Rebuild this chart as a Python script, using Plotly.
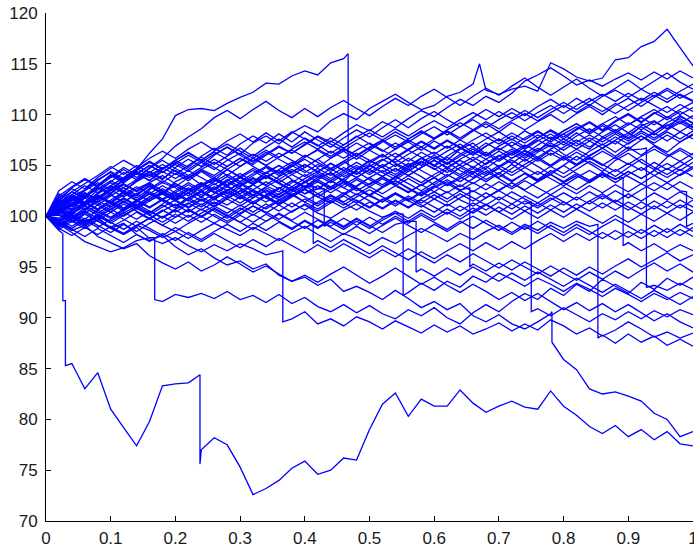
import plotly.graph_objects as go

# time grid (step 0.02)
T = [round(i * 0.02, 2) for i in range(51)]

p01 = [100, 98.6, 85.5, 83.0, 84.6, 81.0, 79.2, 77.4, 79.8, 83.3, 83.5, 83.6, 77.0, 78.2, 77.5, 75.3, 72.6, 73.2, 74.0, 75.2, 75.9, 74.6, 75.0, 76.2, 76.0, 79.0, 81.5, 82.6, 80.3, 82.0, 81.3, 81.3, 82.9, 81.6, 80.7, 81.3, 81.8, 81.2, 81.0, 82.8, 81.3, 80.4, 79.3, 78.6, 79.4, 78.3, 79.0, 78.0, 78.8, 77.6, 77.4]
p02 = [100, 100.6, 99.8, 100.4, 99.5, 98.8, 99.3, 98.2, 97.6, 98.1, 97.0, 96.2, 96.8, 95.9, 95.2, 95.6, 94.8, 95.3, 94.2, 93.6, 94.0, 93.2, 93.8, 92.6, 93.1, 92.5, 91.8, 92.7, 91.9, 91.0, 91.6, 90.8, 91.4, 90.2, 89.6, 90.3, 89.4, 88.9, 89.6, 90.4, 85.9, 84.9, 83.0, 82.5, 82.7, 82.3, 81.8, 80.6, 80.0, 78.3, 78.8]
p03 = [100, 99.2, 98.4, 97.5, 97.0, 96.5, 96.9, 97.6, 97.9, 91.6, 92.3, 92.0, 92.4, 91.9, 92.6, 91.8, 92.2, 91.5, 92.3, 91.4, 92.0, 91.1, 90.6, 91.3, 90.5, 91.2, 90.4, 89.9, 90.8, 90.2, 91.0, 90.0, 89.4, 90.5, 91.3, 90.6, 91.6, 92.4, 91.8, 92.9, 92.2, 93.3, 92.6, 93.8, 93.1, 92.4, 93.5, 92.8, 93.9, 93.2, 94.0]
p04 = [100, 100.8, 100.2, 99.5, 99.9, 98.8, 98.2, 98.9, 97.8, 97.3, 97.9, 97.1, 96.5, 97.2, 96.6, 97.3, 96.8, 96.2, 96.5, 89.9, 90.6, 89.4, 89.9, 89.2, 90.1, 89.6, 88.9, 89.7, 89.1, 88.5, 89.3, 88.6, 89.2, 88.4, 88.9, 89.5, 88.7, 89.4, 88.8, 89.8, 89.2, 88.4, 89.0, 88.2, 88.8, 89.6, 88.9, 88.1, 88.6, 88.0, 88.5]
p05 = [100, 99.5, 100.3, 101.0, 100.4, 99.8, 100.6, 101.2, 100.5, 99.9, 100.7, 101.3, 100.6, 101.4, 100.8, 100.2, 101.0, 100.4, 99.7, 100.5, 101.1, 100.3, 99.8, 100.6, 101.2, 100.5, 99.9, 100.3, 92.5, 93.4, 92.7, 93.6, 93.0, 94.1, 93.5, 94.4, 93.8, 93.1, 93.9, 93.3, 92.6, 93.4, 92.8, 92.1, 92.9, 92.3, 91.6, 92.4, 91.8, 92.5, 91.9]
p06 = [100, 100.4, 99.6, 99.0, 99.7, 98.9, 98.3, 99.1, 98.6, 97.9, 98.5, 97.8, 98.6, 99.3, 98.7, 98.1, 98.9, 98.3, 97.6, 98.4, 99.0, 98.2, 97.5, 98.3, 97.8, 97.1, 97.9, 97.3, 98.1, 98.8, 98.2, 97.5, 98.3, 97.7, 98.5, 99.1, 98.4, 99.2, 98.6, 99.4, 98.8, 99.5, 99.0, 88.3, 87.5, 88.4, 87.6, 88.2, 87.3, 87.9, 87.2]
p07 = [100, 101.1, 100.5, 101.4, 102.0, 101.3, 100.7, 101.5, 102.2, 101.6, 101.0, 101.8, 102.5, 101.7, 101.1, 101.9, 102.6, 101.9, 101.2, 102.0, 102.7, 101.9, 101.3, 102.1, 102.8, 102.0, 101.4, 102.2, 101.5, 100.9, 101.7, 102.4, 101.6, 101.0, 101.8, 102.5, 101.8, 101.2, 90.9, 90.2, 91.0, 90.3, 89.6, 90.4, 89.8, 90.6, 89.9, 90.7, 90.1, 90.8, 90.3]
p08 = [100, 100.9, 101.7, 101.0, 101.9, 102.6, 101.9, 102.7, 103.3, 102.5, 101.8, 102.6, 103.2, 102.4, 101.7, 102.5, 103.1, 102.3, 101.6, 102.4, 103.0, 102.2, 102.9, 103.6, 102.8, 102.1, 102.9, 103.5, 102.7, 102.0, 102.8, 103.4, 102.6, 95.3, 94.6, 95.4, 94.7, 95.5, 94.8, 94.1, 94.9, 94.2, 95.0, 94.3, 95.1, 95.8, 95.0, 95.7, 96.4, 95.6, 96.2]
p09 = [100, 101.3, 102.1, 101.4, 102.6, 103.3, 102.5, 103.4, 104.1, 103.3, 104.2, 103.5, 104.4, 103.6, 102.9, 103.8, 104.5, 103.7, 104.6, 105.3, 104.5, 103.8, 104.7, 105.4, 104.6, 105.5, 104.8, 104.1, 105.0, 105.7, 104.9, 105.8, 105.0, 104.3, 105.2, 106.0, 105.2, 106.1, 105.4, 106.2, 105.5, 106.3, 105.6, 106.4, 105.7, 106.5, 106.6, 93.2, 92.7, 93.4, 92.8]
p10 = [100, 99.4, 100.2, 101.0, 100.3, 101.1, 101.8, 101.0, 101.7, 102.4, 101.6, 102.3, 101.5, 102.2, 102.9, 102.1, 101.4, 102.1, 102.8, 102.0, 102.7, 103.4, 102.6, 103.3, 102.5, 103.2, 103.9, 103.1, 102.4, 103.1, 103.8, 103.0, 103.7, 104.4, 103.6, 104.3, 103.5, 104.2, 103.4, 104.1, 103.3, 104.0, 103.3, 104.1, 103.7, 97.4, 96.6, 97.3, 96.5, 97.2, 96.6]
p11 = [100, 101.2, 102.4, 101.8, 103.0, 104.1, 103.5, 104.6, 106.2, 107.6, 109.9, 110.5, 110.6, 110.4, 111.1, 111.7, 112.2, 113.1, 113.0, 113.8, 114.3, 113.9, 115.1, 115.5, 104.2, 105.0, 104.3, 105.1, 104.4, 105.3, 106.0, 105.2, 106.1, 106.8, 106.0, 106.9, 107.6, 106.8, 107.7, 108.4, 107.6, 108.5, 109.2, 108.4, 109.3, 110.0, 109.2, 110.1, 110.8, 110.0, 110.7]
p12 = [100, 100.8, 101.9, 101.2, 102.3, 103.0, 102.4, 103.5, 104.3, 103.6, 104.8, 105.6, 104.9, 106.0, 106.8, 106.1, 107.2, 107.9, 107.1, 108.2, 108.9, 108.3, 109.4, 110.1, 109.5, 110.6, 111.3, 112.0, 111.2, 110.5, 110.9, 111.8, 112.2, 113.0, 112.4, 112.0, 112.5, 112.8, 112.3, 115.1, 114.5, 113.7, 113.3, 113.6, 115.4, 115.6, 116.7, 117.2, 118.4, 116.6, 114.8]
p13 = [100, 99.6, 100.5, 101.3, 100.7, 101.6, 102.4, 101.8, 102.7, 103.5, 102.9, 103.8, 104.6, 104.0, 104.9, 105.7, 105.1, 106.0, 106.8, 106.2, 107.1, 107.9, 107.3, 108.2, 109.0, 108.4, 109.3, 108.7, 109.6, 110.4, 109.8, 110.7, 111.5, 110.9, 111.8, 111.2, 112.1, 113.3, 113.9, 114.6, 113.8, 112.9, 113.4, 112.8, 113.5, 114.1, 113.4, 114.2, 113.5, 114.3, 113.6]
p14 = [100, 100.9, 102.1, 103.0, 102.3, 103.4, 104.3, 103.6, 104.8, 105.7, 106.9, 107.8, 108.6, 109.7, 110.4, 109.6, 110.5, 111.3, 110.4, 109.7, 110.6, 109.8, 110.7, 111.4, 110.6, 109.9, 110.8, 111.6, 110.9, 111.8, 112.5, 111.7, 110.9, 111.8, 112.6, 111.9, 112.8, 113.6, 112.7, 111.9, 112.7, 113.5, 112.6, 111.8, 112.6, 113.4, 112.5, 113.3, 114.1, 113.2, 112.5]
p15 = [100, 101.4, 100.7, 101.8, 102.9, 102.2, 103.3, 104.2, 103.5, 104.6, 105.5, 104.8, 105.9, 106.7, 106.0, 107.1, 107.9, 107.2, 108.1, 107.3, 108.3, 107.5, 106.8, 107.7, 108.5, 107.8, 108.7, 109.5, 108.7, 109.6, 110.3, 109.5, 108.8, 109.7, 110.5, 109.8, 110.6, 109.9, 110.8, 111.5, 110.7, 111.6, 110.9, 111.8, 112.4, 111.7, 112.5, 111.8, 112.6, 111.9, 111.3]
p16 = [100, 99.3, 98.6, 99.1, 98.0, 97.4, 96.8, 97.3, 96.1, 95.4, 94.8, 95.5, 94.6, 95.2, 96.0, 95.3, 94.5, 95.1, 94.3, 93.6, 94.2, 93.5, 94.3, 95.0, 94.2, 93.4, 94.1, 94.9, 94.1, 93.3, 94.0, 93.2, 92.5, 93.3, 92.6, 91.8, 92.5, 91.7, 92.4, 91.6, 90.8, 91.5, 90.7, 91.4, 90.6, 91.3, 90.5, 89.7, 90.4, 89.6, 89.0]
p17 = [100, 100.7, 100.0, 99.3, 100.1, 99.4, 98.7, 99.5, 98.8, 98.1, 98.9, 98.2, 97.5, 98.3, 97.6, 96.9, 97.7, 97.0, 97.8, 97.1, 96.4, 97.2, 96.5, 97.3, 96.6, 95.9, 96.7, 96.0, 96.8, 96.1, 95.4, 96.2, 95.5, 96.3, 95.6, 94.9, 95.7, 95.0, 94.3, 95.1, 94.4, 93.7, 94.5, 93.8, 94.6, 93.9, 94.7, 95.4, 94.6, 95.3, 94.5]
p18 = [100, 101.0, 101.8, 101.1, 102.0, 101.3, 102.1, 102.9, 102.2, 103.0, 102.3, 103.1, 102.4, 103.2, 102.5, 103.3, 102.6, 103.4, 102.7, 103.5, 102.9, 97.6, 96.9, 97.7, 97.0, 96.3, 97.1, 96.4, 95.7, 96.5, 95.8, 96.6, 97.3, 96.6, 97.4, 96.7, 97.5, 96.8, 97.6, 98.3, 97.5, 98.3, 97.6, 98.4, 97.7, 98.5, 97.8, 98.6, 97.9, 98.7, 98.0]
p19 = [100, 100.6, 101.5, 102.3, 101.6, 102.5, 103.2, 102.5, 103.3, 104.0, 103.2, 102.5, 103.3, 102.6, 103.4, 102.7, 102.0, 102.8, 102.1, 102.9, 102.2, 102.7, 99.4, 98.7, 99.5, 98.8, 99.6, 100.3, 99.5, 100.3, 99.6, 100.4, 99.7, 100.5, 101.2, 100.4, 101.2, 100.5, 101.3, 100.6, 101.4, 100.7, 101.5, 102.2, 101.4, 102.2, 101.5, 102.3, 101.6, 102.4, 101.7]
p20 = [100, 99.5, 98.8, 99.6, 98.9, 99.7, 100.4, 99.7, 100.5, 99.8, 100.6, 99.9, 100.7, 100.0, 99.3, 100.1, 99.4, 100.2, 99.5, 98.8, 99.6, 98.9, 99.7, 99.0, 99.8, 99.1, 98.4, 99.2, 99.5, 94.8, 94.1, 94.9, 94.2, 95.0, 94.3, 93.6, 94.4, 93.7, 94.5, 93.8, 93.1, 93.9, 93.2, 92.5, 93.3, 92.6, 91.9, 92.7, 92.0, 91.3, 92.1]
p21 = [100, 100.5, 101.3, 100.6, 101.4, 102.1, 101.4, 102.2, 101.5, 102.3, 103.0, 102.3, 103.1, 103.8, 103.1, 103.9, 103.2, 104.0, 103.3, 102.6, 103.4, 102.7, 103.5, 102.8, 103.6, 102.9, 103.7, 103.0, 102.3, 103.1, 102.4, 103.2, 102.5, 103.3, 102.6, 103.4, 102.7, 103.5, 102.8, 102.1, 102.9, 102.2, 103.0, 102.3, 103.1, 102.4, 103.2, 102.5, 103.3, 102.5, 99.3]
p22 = [100, 101.8, 102.7, 102.0, 103.1, 104.0, 103.3, 104.2, 105.0, 104.3, 105.1, 104.4, 105.3, 104.6, 105.5, 106.2, 105.4, 106.3, 105.6, 104.9, 105.8, 106.5, 105.7, 106.6, 105.9, 106.7, 107.4, 106.6, 107.5, 106.8, 107.6, 108.3, 107.5, 108.4, 109.1, 108.3, 109.2, 108.5, 109.3, 110.0, 109.2, 110.1, 110.8, 110.0, 110.9, 111.6, 110.8, 111.7, 112.4, 111.6, 112.3]
p23 = [100, 100.3, 101.2, 102.0, 101.3, 100.6, 101.4, 100.7, 101.5, 102.2, 101.5, 100.8, 101.6, 100.9, 101.7, 101.0, 101.8, 102.5, 101.8, 102.6, 101.9, 101.2, 102.0, 101.3, 100.6, 101.4, 100.7, 101.5, 100.8, 101.6, 100.9, 100.2, 101.0, 100.3, 101.1, 100.4, 99.7, 100.5, 99.8, 100.6, 99.9, 100.7, 100.0, 99.3, 100.1, 99.4, 100.2, 99.5, 100.3, 99.6, 100.4]
p24 = [100, 98.9, 99.7, 100.5, 99.8, 100.7, 101.5, 100.8, 101.7, 102.4, 101.7, 102.6, 103.3, 102.6, 103.5, 104.2, 103.4, 104.3, 103.6, 104.4, 105.1, 104.3, 105.2, 104.5, 105.3, 104.6, 105.5, 106.2, 105.4, 106.3, 105.6, 106.4, 107.1, 106.3, 107.2, 106.5, 107.3, 106.6, 107.4, 108.1, 107.3, 108.2, 107.4, 108.3, 109.0, 108.2, 109.1, 108.3, 109.2, 109.9, 109.1]
p25 = [100, 101.5, 102.8, 103.6, 102.9, 103.8, 104.6, 103.8, 104.7, 105.5, 104.7, 104.0, 104.8, 105.6, 104.9, 105.7, 104.9, 104.2, 105.0, 104.3, 105.1, 104.4, 105.2, 104.5, 103.8, 104.6, 103.9, 104.7, 104.0, 104.8, 105.5, 104.7, 105.5, 104.8, 105.6, 104.9, 105.7, 106.4, 105.6, 106.5, 105.8, 106.6, 105.9, 106.7, 107.4, 106.6, 107.5, 108.2, 107.4, 108.3, 107.6]
p26 = [100, 99.2, 100.1, 99.4, 100.2, 99.5, 100.3, 101.0, 100.3, 101.1, 100.4, 101.2, 101.9, 101.2, 102.0, 101.3, 102.1, 101.4, 102.2, 102.9, 102.2, 103.0, 102.3, 103.1, 103.8, 103.1, 103.9, 103.2, 104.0, 103.3, 104.1, 104.8, 104.1, 104.9, 104.2, 105.0, 104.3, 105.1, 105.8, 105.0, 105.9, 105.1, 106.0, 106.7, 105.9, 106.8, 106.0, 106.9, 106.1, 105.4, 106.2]
p27 = [100, 100.8, 101.6, 102.5, 103.3, 102.6, 103.5, 104.3, 103.5, 104.4, 103.7, 104.5, 103.8, 103.1, 103.9, 103.2, 104.0, 104.8, 104.0, 104.9, 105.6, 104.8, 105.7, 106.4, 105.6, 106.5, 105.8, 106.6, 107.3, 106.5, 107.4, 106.7, 107.5, 106.8, 107.6, 108.3, 107.5, 108.4, 107.7, 108.5, 107.8, 108.6, 109.3, 108.5, 109.4, 110.1, 109.3, 110.2, 109.5, 110.3, 109.6]
p28 = [100, 99.7, 99.0, 99.8, 99.1, 98.4, 99.2, 98.5, 99.3, 100.0, 99.3, 100.1, 99.4, 100.2, 99.5, 100.3, 101.0, 100.3, 101.1, 100.4, 101.2, 100.5, 101.3, 102.0, 101.3, 102.1, 101.4, 102.2, 101.5, 102.3, 103.0, 102.3, 103.1, 102.4, 103.2, 102.5, 103.3, 102.6, 103.4, 104.1, 103.4, 104.2, 103.5, 104.3, 103.6, 104.4, 103.7, 104.5, 105.2, 104.5, 105.3]
p29 = [100, 102.2, 101.5, 102.6, 103.5, 104.4, 103.7, 104.6, 105.4, 104.7, 105.5, 106.3, 105.5, 106.4, 107.1, 106.4, 105.7, 106.5, 105.8, 106.6, 107.3, 106.6, 107.4, 106.7, 107.5, 108.2, 107.5, 108.3, 107.6, 108.4, 107.7, 108.5, 109.2, 108.5, 109.3, 108.6, 109.4, 110.1, 109.4, 110.2, 110.9, 110.2, 111.0, 110.3, 111.1, 110.4, 111.2, 111.9, 111.2, 112.0, 111.4]
p30 = [100, 100.2, 99.5, 100.3, 101.1, 100.4, 101.2, 100.5, 99.8, 100.6, 99.9, 100.7, 100.0, 100.8, 100.1, 99.4, 100.2, 99.5, 100.3, 99.6, 100.4, 99.7, 99.0, 99.8, 99.1, 99.9, 99.2, 100.0, 99.3, 100.1, 99.4, 98.7, 99.5, 98.8, 99.6, 98.9, 98.2, 99.0, 98.3, 99.1, 98.4, 99.2, 98.5, 97.8, 98.6, 97.9, 98.7, 98.0, 98.8, 98.1, 98.9]
p31 = [100, 101.6, 102.4, 103.2, 104.0, 104.9, 104.1, 105.0, 104.3, 105.1, 104.4, 103.7, 104.5, 103.8, 104.6, 103.9, 104.7, 104.0, 103.3, 104.1, 103.4, 104.2, 103.5, 104.3, 105.0, 104.3, 105.1, 104.4, 105.2, 104.5, 103.8, 104.6, 103.9, 104.7, 104.0, 104.8, 105.5, 104.8, 105.6, 104.9, 105.7, 105.0, 105.8, 105.1, 104.4, 105.2, 104.5, 105.3, 104.6, 105.4, 104.7]
p32 = [100, 98.8, 98.1, 98.9, 98.2, 99.0, 98.3, 99.1, 99.8, 99.1, 99.9, 100.6, 99.9, 100.7, 100.0, 100.8, 100.1, 100.9, 101.6, 100.9, 101.7, 101.0, 101.8, 101.1, 101.9, 102.6, 101.9, 101.2, 102.0, 101.3, 102.1, 101.4, 102.2, 101.5, 102.3, 101.6, 102.4, 101.7, 101.0, 101.8, 101.1, 101.9, 101.2, 102.0, 101.3, 100.6, 101.4, 100.7, 101.5, 100.8, 101.6]
p33 = [100, 101.0, 100.3, 101.2, 102.1, 101.4, 102.3, 101.6, 102.4, 101.7, 102.5, 103.3, 102.6, 103.4, 104.1, 103.4, 104.2, 104.9, 104.2, 105.0, 104.3, 105.1, 104.4, 105.2, 105.9, 105.2, 106.0, 105.3, 106.1, 106.8, 106.1, 106.9, 106.2, 105.5, 106.3, 105.6, 106.4, 105.7, 106.5, 107.2, 106.5, 107.3, 108.0, 107.3, 108.1, 107.4, 108.2, 107.5, 108.3, 107.6, 108.4]
p34 = [100, 100.4, 101.3, 102.1, 101.4, 102.3, 103.1, 102.4, 103.2, 102.5, 101.8, 102.6, 101.9, 102.7, 102.0, 102.8, 102.1, 102.9, 103.6, 102.9, 103.7, 104.4, 103.7, 104.5, 103.8, 104.6, 103.9, 104.7, 104.0, 104.8, 105.5, 104.8, 105.6, 106.3, 105.6, 106.4, 105.7, 106.5, 105.8, 106.6, 107.3, 106.6, 107.4, 106.7, 107.5, 108.2, 107.5, 108.3, 109.0, 108.3, 109.1]
p35 = [100, 99.0, 99.8, 99.1, 99.9, 100.7, 100.0, 100.8, 100.1, 99.4, 100.2, 99.5, 100.3, 101.0, 100.3, 101.1, 100.4, 101.2, 100.5, 101.3, 100.6, 101.4, 102.1, 101.4, 102.2, 101.5, 100.8, 101.6, 100.9, 101.7, 102.4, 101.7, 102.5, 101.8, 101.1, 101.9, 101.2, 102.0, 101.3, 102.1, 101.4, 100.7, 101.5, 100.8, 101.6, 100.9, 100.2, 101.0, 100.3, 101.1, 100.5]
p36 = [100, 101.9, 101.2, 102.3, 101.6, 102.7, 103.6, 104.5, 105.3, 104.6, 105.5, 106.2, 105.5, 106.3, 105.6, 104.9, 105.7, 105.0, 105.8, 106.5, 105.8, 106.6, 105.9, 106.7, 106.0, 106.8, 107.5, 106.8, 107.6, 108.3, 107.6, 108.4, 107.7, 108.5, 107.8, 107.1, 107.9, 107.2, 108.0, 107.3, 108.1, 108.8, 108.1, 108.9, 108.2, 109.0, 109.7, 109.0, 109.8, 109.1, 109.9]
p37 = [100, 100.6, 99.9, 99.2, 100.0, 99.3, 100.1, 100.8, 100.1, 100.9, 101.6, 100.9, 101.7, 101.0, 101.8, 102.5, 101.8, 102.6, 101.9, 102.7, 103.4, 102.7, 103.5, 102.8, 102.1, 102.9, 102.2, 103.0, 103.7, 103.0, 103.8, 103.1, 103.9, 103.2, 104.0, 104.7, 104.0, 104.8, 104.1, 104.9, 104.2, 105.0, 105.7, 105.0, 105.8, 105.1, 105.9, 106.6, 105.9, 106.7, 106.0]
p38 = [100, 101.3, 100.6, 101.4, 100.7, 101.5, 100.8, 101.6, 100.9, 101.7, 101.0, 101.8, 101.1, 101.9, 102.6, 101.9, 101.2, 102.0, 101.3, 102.1, 101.4, 102.2, 101.5, 100.8, 101.6, 100.9, 101.7, 101.0, 101.8, 101.1, 100.4, 101.2, 100.5, 101.3, 100.6, 101.4, 100.7, 101.5, 100.8, 101.6, 102.3, 101.6, 102.4, 101.7, 102.5, 101.8, 102.6, 103.3, 102.6, 103.4, 102.7]
p39 = [100, 102.5, 103.4, 102.7, 103.8, 104.7, 105.5, 104.8, 105.7, 106.4, 105.7, 106.6, 107.3, 106.5, 107.4, 108.1, 107.3, 108.2, 107.4, 108.3, 107.6, 106.9, 107.7, 107.0, 107.8, 108.5, 107.8, 108.6, 107.9, 108.7, 109.4, 108.7, 109.5, 110.2, 109.5, 110.3, 109.6, 110.4, 109.7, 110.5, 111.2, 110.5, 111.3, 112.0, 111.3, 112.1, 111.4, 112.2, 111.5, 112.3, 113.0]
p40 = [100, 99.4, 98.7, 98.0, 98.8, 98.1, 97.4, 98.2, 97.5, 98.3, 97.6, 98.4, 97.7, 98.5, 99.2, 98.5, 99.3, 98.6, 99.4, 98.7, 99.5, 98.8, 99.6, 98.9, 99.7, 99.0, 99.8, 100.5, 99.8, 100.6, 99.9, 100.7, 100.0, 100.8, 100.1, 100.9, 100.2, 101.0, 100.3, 101.1, 100.4, 101.2, 100.5, 101.3, 100.6, 101.4, 100.7, 101.5, 100.8, 101.6, 100.9]
p41 = [100, 100.9, 99.8, 100.5, 101.9, 101.2, 102.5, 102.0, 103.1, 102.2, 103.4, 104.0, 103.1, 103.5, 104.6, 103.8, 103.2, 104.3, 105.0, 104.1, 104.8, 105.6, 104.7, 103.9, 104.5, 105.4, 106.1, 105.2, 104.6, 105.7, 106.3, 105.5, 106.6, 107.2, 106.1, 105.4, 106.2, 107.0, 106.4, 107.5, 108.1, 107.2, 106.6, 107.8, 108.5, 107.7, 108.9, 109.4, 108.6, 109.8, 109.2]
p42 = [100, 101.4, 102.0, 101.1, 101.7, 102.9, 102.3, 101.5, 102.6, 103.3, 102.8, 102.0, 102.9, 103.7, 103.0, 102.2, 103.1, 103.9, 104.5, 103.6, 102.9, 103.8, 104.2, 103.4, 104.6, 105.1, 104.3, 103.6, 104.4, 105.3, 104.7, 103.9, 104.8, 105.5, 104.6, 103.8, 104.7, 105.6, 104.9, 104.1, 105.0, 105.9, 105.2, 104.4, 105.5, 106.2, 105.3, 104.6, 105.8, 106.5, 105.7]
p43 = [100, 99.1, 99.9, 100.8, 100.1, 100.9, 101.7, 101.0, 100.3, 101.2, 102.1, 101.5, 102.4, 101.6, 102.5, 103.2, 102.4, 101.8, 102.7, 103.5, 102.8, 103.6, 104.3, 103.5, 102.9, 103.8, 104.5, 103.9, 104.8, 105.4, 104.6, 105.3, 104.5, 103.8, 104.7, 105.6, 106.2, 105.4, 106.3, 107.0, 106.1, 105.5, 106.4, 107.1, 106.3, 107.2, 107.9, 107.0, 106.3, 107.3, 108.0]
p44 = [100, 100.2, 101.1, 101.9, 102.8, 102.1, 101.4, 102.2, 103.0, 102.3, 103.2, 102.6, 101.9, 102.7, 103.6, 102.9, 103.7, 103.0, 102.4, 103.3, 104.1, 103.4, 102.8, 103.7, 104.4, 103.6, 102.9, 103.8, 104.6, 103.9, 103.1, 103.9, 104.8, 104.1, 103.4, 104.2, 105.1, 104.3, 103.6, 104.5, 103.8, 104.6, 105.4, 104.7, 103.9, 104.8, 105.6, 104.8, 104.1, 104.9, 105.7]
p45 = [100, 101.0, 101.9, 102.6, 103.6, 104.3, 103.5, 104.4, 103.8, 104.7, 105.3, 104.6, 105.5, 104.8, 104.0, 104.9, 105.7, 105.0, 104.3, 105.1, 106.0, 105.3, 104.6, 105.4, 106.2, 105.5, 104.8, 105.7, 106.5, 105.8, 105.0, 105.9, 106.7, 106.0, 106.9, 107.6, 106.8, 106.1, 107.0, 107.8, 107.0, 107.9, 108.6, 107.8, 107.1, 108.0, 108.8, 108.0, 108.9, 109.6, 108.8]
p46 = [100, 99.6, 100.4, 99.7, 100.6, 101.3, 100.5, 101.4, 102.2, 101.5, 100.8, 101.7, 102.5, 101.8, 102.6, 101.9, 101.2, 102.0, 102.8, 102.1, 102.9, 103.6, 102.9, 102.2, 103.0, 103.8, 103.1, 103.9, 103.2, 102.5, 103.3, 104.1, 103.4, 104.2, 104.9, 104.1, 103.4, 104.2, 103.5, 104.3, 105.0, 104.2, 103.5, 104.3, 103.6, 104.4, 103.7, 104.5, 103.8, 104.6, 103.9]
p47 = [100, 102.0, 102.9, 103.7, 103.0, 103.9, 104.8, 104.1, 105.0, 104.3, 105.2, 106.0, 105.3, 106.1, 106.8, 106.0, 105.3, 106.1, 106.9, 106.2, 107.0, 107.8, 107.1, 106.4, 107.2, 106.5, 107.3, 108.0, 107.3, 108.1, 108.8, 108.0, 108.8, 109.5, 108.7, 109.5, 110.2, 109.4, 110.2, 110.9, 110.1, 110.9, 111.6, 110.8, 110.1, 110.9, 111.6, 110.9, 110.2, 111.0, 110.3]
p48 = [100, 100.1, 99.4, 100.2, 99.5, 98.9, 99.6, 100.4, 99.7, 100.5, 101.2, 100.4, 101.2, 100.5, 99.8, 100.6, 101.4, 100.7, 101.5, 102.2, 101.4, 100.7, 101.5, 102.3, 101.5, 100.8, 101.6, 102.3, 101.6, 102.4, 101.7, 101.0, 101.8, 102.5, 101.8, 102.6, 103.3, 102.5, 101.8, 102.6, 103.3, 102.6, 103.4, 104.1, 103.3, 104.1, 104.8, 104.0, 103.3, 104.1, 104.9]
p49 = [100, 101.7, 101.0, 101.9, 102.7, 103.5, 102.8, 103.6, 104.4, 103.7, 104.5, 103.8, 104.6, 105.3, 104.6, 105.4, 106.1, 105.4, 106.2, 105.5, 104.8, 105.6, 106.4, 105.7, 106.5, 107.2, 106.5, 105.8, 106.6, 107.4, 106.7, 107.5, 106.8, 106.1, 106.9, 107.6, 106.9, 107.7, 108.4, 107.6, 108.4, 109.1, 108.3, 109.1, 109.8, 109.0, 109.8, 110.5, 109.7, 110.5, 111.2]
p50 = [100, 99.8, 100.6, 101.3, 100.6, 99.9, 100.7, 101.5, 100.8, 101.6, 102.3, 101.6, 100.9, 101.7, 102.4, 101.7, 102.5, 101.8, 101.1, 101.9, 102.6, 101.9, 102.7, 103.4, 102.7, 102.0, 102.8, 103.5, 102.8, 102.1, 102.9, 103.6, 102.9, 103.7, 104.4, 103.7, 102.9, 103.7, 104.4, 103.7, 103.0, 103.8, 104.5, 103.8, 104.6, 103.9, 103.2, 104.0, 104.7, 104.0, 104.7]
p51 = [100, 98.7, 99.5, 98.8, 99.6, 100.4, 99.7, 99.0, 99.8, 99.1, 98.5, 99.3, 100.0, 99.3, 100.1, 99.4, 98.7, 99.5, 100.2, 99.5, 98.8, 99.6, 98.9, 98.2, 99.0, 98.3, 99.1, 99.8, 99.1, 98.4, 99.2, 98.5, 99.3, 100.0, 99.3, 98.6, 99.4, 98.7, 99.5, 98.8, 98.1, 98.9, 98.2, 99.0, 99.7, 99.0, 98.3, 99.1, 98.4, 99.2, 98.5]
p52 = [100, 101.2, 102.1, 101.3, 102.2, 103.0, 103.8, 104.7, 104.0, 104.8, 104.1, 105.0, 105.8, 105.1, 105.9, 106.7, 105.9, 106.8, 107.6, 106.8, 107.7, 107.0, 106.2, 107.0, 107.9, 107.1, 106.4, 107.2, 106.5, 107.3, 106.6, 107.4, 106.7, 107.5, 108.2, 107.4, 108.2, 107.5, 108.3, 107.6, 108.4, 109.1, 108.3, 109.1, 108.4, 109.2, 108.5, 109.3, 108.6, 109.4, 108.7]
p53 = [100, 100.5, 99.8, 100.7, 101.5, 100.9, 101.8, 101.1, 101.9, 102.7, 102.0, 102.8, 102.1, 102.9, 102.2, 103.0, 103.8, 103.1, 103.9, 104.6, 103.9, 104.7, 104.0, 104.8, 104.1, 104.9, 105.6, 104.9, 105.7, 105.0, 105.8, 105.1, 105.9, 106.6, 105.9, 106.7, 106.0, 106.8, 107.5, 106.8, 107.6, 106.9, 107.7, 107.0, 107.8, 107.1, 107.9, 107.2, 108.0, 107.3, 108.1]
p54 = [100, 101.6, 100.9, 101.8, 101.1, 102.0, 102.8, 102.1, 102.9, 102.2, 101.5, 102.3, 103.0, 102.3, 103.1, 103.8, 103.1, 103.9, 103.2, 102.5, 103.3, 104.0, 103.3, 104.1, 104.8, 104.1, 104.9, 105.6, 104.9, 105.7, 105.0, 104.3, 105.1, 105.8, 105.1, 105.9, 106.6, 105.9, 106.7, 106.0, 106.8, 107.5, 106.8, 107.6, 108.3, 107.6, 108.4, 107.7, 108.5, 109.2, 108.5]

PATHS = [p01, p02, p03, p04, p05, p06, p07, p08, p09, p10,
         p11, p12, p13, p14, p15, p16, p17, p18, p19, p20,
         p21, p22, p23, p24, p25, p26, p27, p28, p29, p30,
         p31, p32, p33, p34, p35, p36, p37, p38, p39, p40,
         p41, p42, p43, p44, p45, p46, p47, p48, p49, p50,
         p51, p52, p53, p54]

# jumps: path index -> list of (time, value before, value after)
JUMPS = {
    0: [(0.026, 98.3, 91.7), (0.030, 91.7, 85.3), (0.238, 84.4, 75.6)],
    1: [(0.782, 90.6, 87.6)],
    2: [(0.168, 97.9, 91.8)],
    3: [(0.366, 96.6, 89.6)],
    4: [(0.552, 100.2, 92.2)],
    5: [(0.853, 99.2, 88.0)],
    6: [(0.750, 101.4, 90.6)],
    7: [(0.655, 102.8, 95.0)],
    8: [(0.928, 106.7, 93.0)],
    9: [(0.892, 103.8, 97.1)],
    10: [(0.467, 116.0, 104.6)],
    11: [(0.670, 115.0, 115.0)],
    17: [(0.413, 102.9, 97.3)],
    18: [(0.430, 102.7, 99.0)],
    19: [(0.572, 99.5, 94.5)],
    20: [(0.990, 102.4, 99.0)],
}

X_TICKS = [0, 0.1, 0.2, 0.3, 0.4, 0.5, 0.6, 0.7, 0.8, 0.9, 1]
Y_TICKS = [70, 75, 80, 85, 90, 95, 100, 105, 110, 115, 120]

fig = go.Figure()
for k, vals in enumerate(PATHS):
    pts = list(zip(T, vals))
    for (tj, vb, va) in JUMPS.get(k, []):
        pts.append((tj, vb))
        if va != vb:
            pts.append((tj + 1e-9, va))
    pts.sort(key=lambda p: p[0])
    fig.add_trace(go.Scatter(
        x=[p[0] for p in pts], y=[p[1] for p in pts],
        mode="lines", line=dict(color="#0000ff", width=1.3),
        showlegend=False, hoverinfo="skip"))

axis_common = dict(
    showline=True, linecolor="#000000", linewidth=1,
    ticks="inside", ticklen=5, tickcolor="#000000",
    showgrid=False, zeroline=False, mirror=False, automargin=False,
    tickfont=dict(family="Liberation Sans, Arial, sans-serif", size=17, color="#1a1a1a"),
)
fig.update_xaxes(range=[0, 1], tickvals=X_TICKS, ticktext=[str(v) for v in X_TICKS],
                 ticklabelstandoff=2, ticklabeloverflow="allow", **axis_common)
fig.update_yaxes(range=[70, 120], tickvals=Y_TICKS, ticklabelstandoff=4, **axis_common)

fig.update_layout(
    width=694, height=549, autosize=False,
    margin=dict(l=46, r=1, t=13, b=28),
    paper_bgcolor="#ffffff", plot_bgcolor="#ffffff",
)

fig.write_html("out.html")
